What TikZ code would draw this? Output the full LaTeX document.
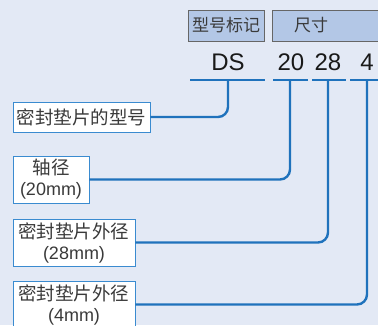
\documentclass[tikz,border=0pt]{standalone}
\usepackage{fontspec}
\setmainfont{Liberation Sans}
\newfontfamily\cjk{Noto Sans CJK SC}
\definecolor{bg}{HTML}{E3E9F5}
\definecolor{hdr}{HTML}{B3C7E6}
\definecolor{ln}{HTML}{1F72BC}
\definecolor{bx}{HTML}{3A8BD0}
\definecolor{txt}{HTML}{3A3A3A}
\begin{document}
\begin{tikzpicture}[x=1pt,y=-1pt,
  hdrbox/.style={draw=black!60, line width=0.8pt, fill=hdr, inner sep=0pt, font=\cjk\fontsize{17}{19}\selectfont, text=txt},
  codetxt/.style={font=\fontsize{24}{26}\selectfont, text=black!90, inner sep=0pt},
  lblbox/.style={draw=bx, line width=0.9pt, fill=white, inner sep=0pt, align=center, font=\cjk\fontsize{18.5}{21}\selectfont, text=txt},
  lat/.style={},
  conn/.style={draw=ln, line width=2.4pt, rounded corners=10pt},
  bar/.style={draw=ln, line width=2.4pt}]
\clip (0,0) rectangle (378,325);
\fill[bg] (0,0) rectangle (378,325);
% header
\node[hdrbox, minimum width=76, minimum height=31] (h1) at (226,25.5) {型号标记};
\node[hdrbox, minimum width=110, minimum height=31, anchor=west] (h2) at (272,25.5) {};
\node[font=\cjk\fontsize{17}{19}\selectfont, text=txt] (h2t) at (311,25.5) {尺寸};
% codes
\node[codetxt] (cDS) at (228,62) {DS};
\node[codetxt] (c20) at (291,62) {20};
\node[codetxt] (c28) at (328,62) {28};
\node[codetxt] (c4) at (367,62) {4};
% bars
\coordinate (a1) at (190,80); \coordinate (a2) at (265,80);
\coordinate (b1) at (273,80); \coordinate (b2) at (308,80);
\coordinate (d1) at (312,80); \coordinate (d2) at (346,80);
\coordinate (e1) at (350,80); \coordinate (e2) at (380,80);
\draw[bar] (a1) -- (a2);
\draw[bar] (b1) -- (b2);
\draw[bar] (d1) -- (d2);
\draw[bar] (e1) -- (e2);
\coordinate (sDS) at (228,80);
\coordinate (s20) at (290,80);
\coordinate (s28) at (328,80);
\coordinate (s4) at (367,80);
% label boxes
\node[lblbox, minimum width=137, minimum height=30] (L1) at (81.5,117) {密封垫片的型号};
\node[lblbox, minimum width=76, minimum height=47] (L2) at (51,179.5) {轴径\\{\rmfamily\fontsize{18}{21}\selectfont(20mm)}};
\node[lblbox, minimum width=122, minimum height=47] (L3) at (74,242.5) {密封垫片外径\\{\rmfamily\fontsize{18}{21}\selectfont(28mm)}};
\node[lblbox, minimum width=122, minimum height=47] (L4) at (74,304.5) {密封垫片外径\\{\rmfamily\fontsize{18}{21}\selectfont(4mm)}};
% connectors
\draw[conn] (L1.east) -| (sDS);
\draw[conn] (L2.east) -| (s20);
\draw[conn] (L3.east) -| (s28);
\draw[conn] (L4.east) -| (s4);
\end{tikzpicture}
\end{document}
